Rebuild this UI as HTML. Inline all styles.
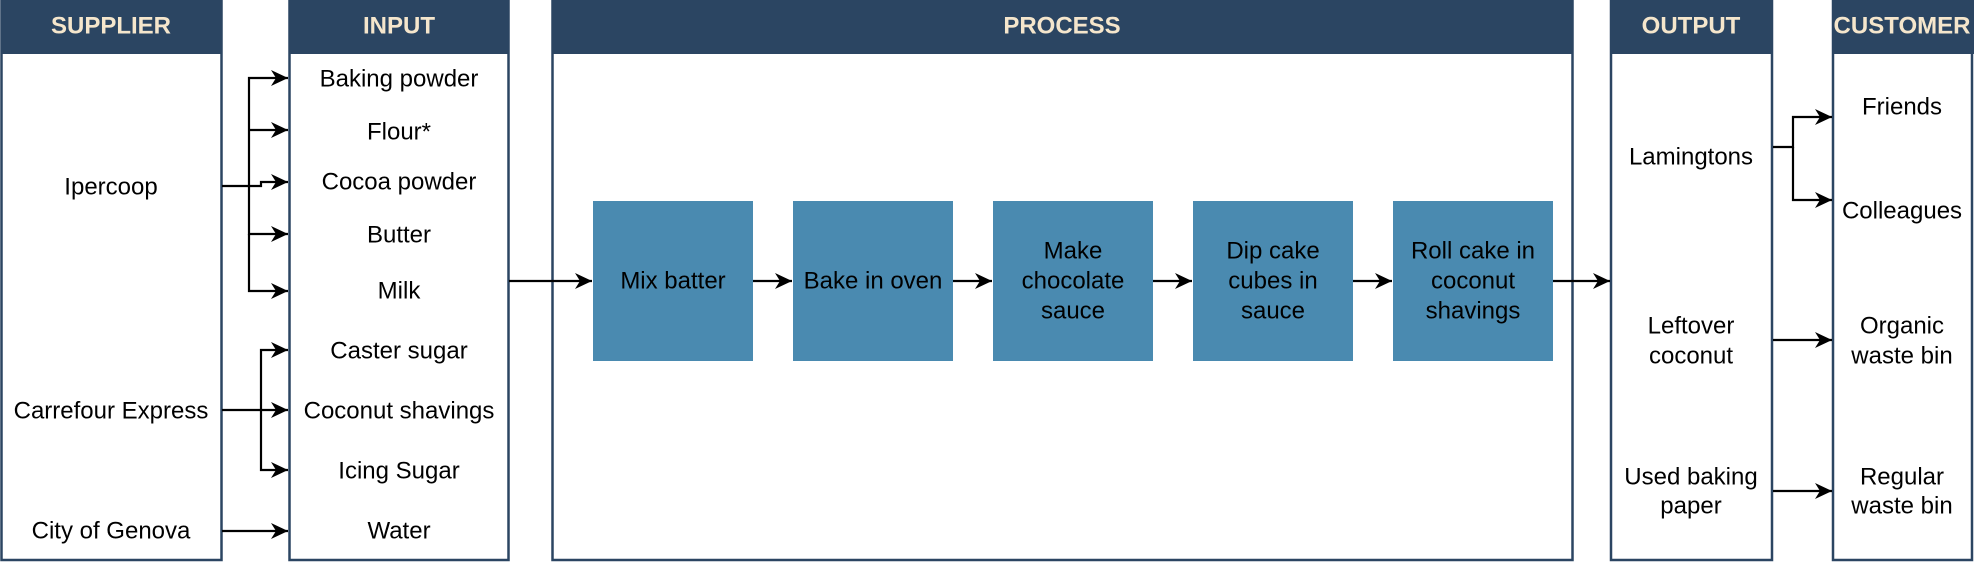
<!DOCTYPE html>
<html><head><meta charset="utf-8"><style>
html,body{margin:0;padding:0;background:#fff;}
svg{display:block;}
text{font-family:"Liberation Sans",Arial,sans-serif;font-size:24px;fill:#000;text-anchor:middle;dominant-baseline:central;}
.h{font-weight:bold;fill:#f5e6cc;font-size:24px;}
.b{fill:#fff;stroke:#2b4562;stroke-width:2.5;}
.hd{fill:#2b4562;}
.p{fill:#4a8ab0;}
.l{stroke:#000;stroke-width:2.2;fill:none;}
</style></head><body>
<svg width="1974" height="568" viewBox="0 0 1974 568" xmlns="http://www.w3.org/2000/svg">
<defs><marker id="a" markerWidth="18" markerHeight="18" refX="17" refY="9" orient="auto" markerUnits="userSpaceOnUse" viewBox="0 0 18 18"><path d="M0,1 L17,9 L0,17 L5,9 Z" fill="#000"/></marker></defs>
<g>
<rect class="b" x="1.5" y="1" width="220" height="559"/><rect class="hd" x="0.5" y="0" width="222" height="54"/>
<rect class="b" x="289.5" y="1" width="219" height="559"/><rect class="hd" x="288.5" y="0" width="221" height="54"/>
<rect class="b" x="552.5" y="1" width="1020" height="559"/><rect class="hd" x="551.5" y="0" width="1022" height="54"/>
<rect class="b" x="1611" y="1" width="161" height="559"/><rect class="hd" x="1610" y="0" width="163" height="54"/>
<rect class="b" x="1833" y="1" width="139" height="559"/><rect class="hd" x="1832" y="0" width="142" height="54"/>
</g>
<g transform="translate(0,1)">
<text class="h" x="111" y="25">SUPPLIER</text>
<text class="h" x="399" y="25">INPUT</text>
<text class="h" x="1062" y="25">PROCESS</text>
<text class="h" x="1691" y="25">OUTPUT</text>
<text class="h" x="1902" y="25">CUSTOMER</text>

<text x="111" y="186">Ipercoop</text>
<text x="111" y="410">Carrefour Express</text>
<text x="111" y="530">City of Genova</text>

<text x="399" y="78">Baking powder</text>
<text x="399" y="131">Flour*</text>
<text x="399" y="181">Cocoa powder</text>
<text x="399" y="234">Butter</text>
<text x="399" y="290">Milk</text>
<text x="399" y="350">Caster sugar</text>
<text x="399" y="410">Coconut shavings</text>
<text x="399" y="470">Icing Sugar</text>
<text x="399" y="530">Water</text>
</g>

<rect class="p" x="593" y="201" width="160" height="160"/>
<rect class="p" x="793" y="201" width="160" height="160"/>
<rect class="p" x="993" y="201" width="160" height="160"/>
<rect class="p" x="1193" y="201" width="160" height="160"/>
<rect class="p" x="1393" y="201" width="160" height="160"/>
<g transform="translate(0,1)">
<text x="673" y="280">Mix batter</text>
<text x="873" y="280">Bake in oven</text>
<text x="1073" y="250">Make</text><text x="1073" y="280">chocolate</text><text x="1073" y="310">sauce</text>
<text x="1273" y="250">Dip cake</text><text x="1273" y="280">cubes in</text><text x="1273" y="310">sauce</text>
<text x="1473" y="250">Roll cake in</text><text x="1473" y="280">coconut</text><text x="1473" y="310">shavings</text>

<text x="1691" y="156">Lamingtons</text>
<text x="1691" y="325">Leftover</text><text x="1691" y="355">coconut</text>
<text x="1691" y="476">Used baking</text><text x="1691" y="505">paper</text>

<text x="1902" y="106">Friends</text>
<text x="1902" y="210">Colleagues</text>
<text x="1902" y="325">Organic</text><text x="1902" y="355">waste bin</text>
<text x="1902" y="476">Regular</text><text x="1902" y="505">waste bin</text>
</g>

<g class="l">
<path d="M222,186 H249 V78 H288" marker-end="url(#a)"/>
<path d="M249,130 H288" marker-end="url(#a)"/>
<path d="M249,186 H261 V182 H288" marker-end="url(#a)"/>
<path d="M249,186 V234 H288" marker-end="url(#a)"/>
<path d="M249,234 V291 H288" marker-end="url(#a)"/>
<path d="M222,410 H288" marker-end="url(#a)"/>
<path d="M261,410 V350 H288" marker-end="url(#a)"/>
<path d="M261,410 V470 H288" marker-end="url(#a)"/>
<path d="M222,531 H288" marker-end="url(#a)"/>
<path d="M509,281 H592" marker-end="url(#a)"/>
<path d="M753,281 H792" marker-end="url(#a)"/>
<path d="M953,281 H992" marker-end="url(#a)"/>
<path d="M1153,281 H1192" marker-end="url(#a)"/>
<path d="M1353,281 H1392" marker-end="url(#a)"/>
<path d="M1553,281 H1610" marker-end="url(#a)"/>
<path d="M1773,147 H1793 V117 H1832" marker-end="url(#a)"/>
<path d="M1793,147 V200 H1832" marker-end="url(#a)"/>
<path d="M1773,340 H1832" marker-end="url(#a)"/>
<path d="M1773,491 H1832" marker-end="url(#a)"/>
</g>
</svg>
</body></html>
